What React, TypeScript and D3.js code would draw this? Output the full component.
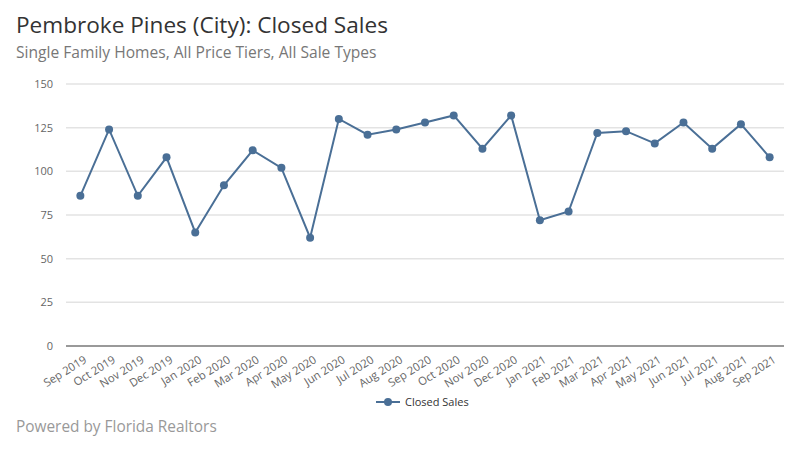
import React from "react";
import * as d3 from "d3";

const months = ["Sep 2019","Oct 2019","Nov 2019","Dec 2019","Jan 2020","Feb 2020","Mar 2020","Apr 2020","May 2020","Jun 2020","Jul 2020","Aug 2020","Sep 2020","Oct 2020","Nov 2020","Dec 2020","Jan 2021","Feb 2021","Mar 2021","Apr 2021","May 2021","Jun 2021","Jul 2021","Aug 2021","Sep 2021"];
const closedSales = [86,124,86,108,65,92,112,102,62,130,121,124,128,132,113,132,72,77,122,123,116,128,113,127,108];
const yTicks = [0,25,50,75,100,125,150];

const W = 800, H = 450;
const left = 66, right = 784, top = 84, bottom = 346;
const COLOR = "#4a6f96";
const FONT = "'Open Sans', 'Noto Sans', sans-serif";

export default function App() {
  const x = d3.scaleBand<string>().domain(months).range([left, right]);
  const y = d3.scaleLinear().domain([0, 150]).range([bottom, top]);
  const cx = (m: string) => (x(m) as number) + x.bandwidth() / 2;
  const line = d3.line<number>().x((_, i) => cx(months[i])).y(d => y(d));
  return (
    <div style={{ margin: -8 }}>
      <svg width={W} height={H} style={{ display: "block", fontFamily: FONT }}>
        <rect x={0} y={0} width={W} height={H} fill="#fff" />
        <rect x={0.5} y={0.5} width={W - 1} height={H - 1} fill="none" stroke="#ddd" />
        <text x={16} y={33} fontSize={22.6} fill="#333">Pembroke Pines (City): Closed Sales</text>
        <text x={16} y={58} fontSize={15.6} fill="#777">Single Family Homes, All Price Tiers, All Sale Types</text>
        {yTicks.map(t => (
          <g key={t}>
            {t > 0 && <line x1={left} x2={right} y1={y(t)} y2={y(t)} stroke="#e3e3e3" strokeWidth={1.5} />}
            <text x={53} y={y(t)} dy="0.35em" textAnchor="end" fontSize={11} fill="#666">{t}</text>
          </g>
        ))}
        <line x1={left} x2={right} y1={y(0)} y2={y(0)} stroke="#999" strokeWidth={2} />
        {months.map(m => (
          <text key={m} transform={`translate(${cx(m) + 3},${bottom + 9}) rotate(-32)`} textAnchor="end" dy="0.7em" fontSize={11.3} fill="#666">{m}</text>
        ))}
        <path d={line(closedSales) || ""} fill="none" stroke={COLOR} strokeWidth={2} />
        {closedSales.map((v, i) => (
          <circle key={i} cx={cx(months[i])} cy={y(v)} r={4} fill={COLOR} />
        ))}
        <line x1={376} x2={400} y1={402} y2={402} stroke={COLOR} strokeWidth={2} />
        <circle cx={388} cy={402} r={4} fill={COLOR} />
        <text x={405} y={402} dy="0.35em" fontSize={11} fill="#333">Closed Sales</text>
        <text x={16} y={432} fontSize={15.4} fill="#999">Powered by Florida Realtors</text>
      </svg>
    </div>
  );
}
